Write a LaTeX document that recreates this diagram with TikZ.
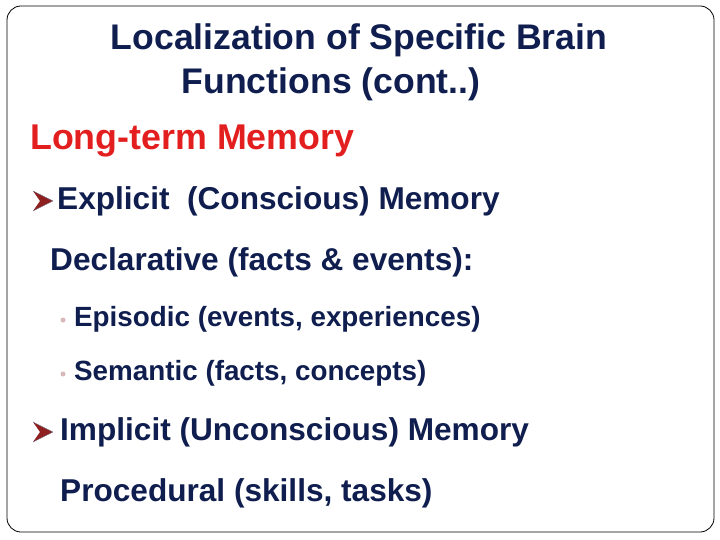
\documentclass[tikz,border=0pt]{standalone}
\usepackage{fontspec}
\setmainfont{Liberation Sans}
\begin{document}
\begin{tikzpicture}[x=1pt,y=-1pt,
  txt/.style={anchor=west,inner sep=0pt,text=navy,font=\fontsize{31.6}{34}\selectfont\bfseries},
  sub/.style={anchor=west,inner sep=0pt,text=navy,font=\fontsize{27.8}{30}\selectfont\bfseries},
  dot/.style={circle,fill=bulletc,inner sep=0pt,minimum size=5pt}]
\definecolor{navy}{HTML}{0F1E4E}
\definecolor{redc}{HTML}{E31E1E}
\definecolor{bulletc}{HTML}{D8B8B8}
\definecolor{arrowc}{HTML}{8E2020}
\useasboundingbox (0,0) rectangle (720,540);
\draw[rounded corners=14pt,line width=0.8pt] (7,6) rectangle (714,532);
\node[inner sep=0pt,text=navy,font=\fontsize{35.6}{40}\selectfont\bfseries] (t1) at (359,40) {Localization of Specific Brain};
\node[inner sep=0pt,text=navy,font=\fontsize{35.6}{40}\selectfont\bfseries] (t2) at (331,84) {Functions (cont..)};
\node[anchor=west,inner sep=0pt,text=redc,font=\fontsize{35.8}{38}\selectfont\bfseries] (lt) at (30,141) {Long-term Memory};
\node[txt] (ex) at (57,201) {Explicit\ \ (Conscious) Memory};
\node[txt] (de) at (50,262) {Declarative (facts \& events):};
\node[dot] (b1) at (63,320) {};
\node[sub] (ep) at (74,319) {Episodic (events, experiences)};
\node[dot] (b2) at (63,374) {};
\node[sub] (se) at (74,373) {Semantic (facts, concepts)};
\node[txt] (im) at (60,432) {Implicit (Unconscious) Memory};
\node[txt] (pr) at (60,493) {Procedural (skills, tasks)};
\foreach \y in {201,432}{
  \fill[arrowc] (33,\y-10) -- (53,\y) -- (33,\y+10) -- (40,\y) -- cycle;
  \draw[navy!60,line width=0.4pt] (33,\y-10) -- (53,\y) -- (33,\y+10);
}
\end{tikzpicture}
\end{document}
